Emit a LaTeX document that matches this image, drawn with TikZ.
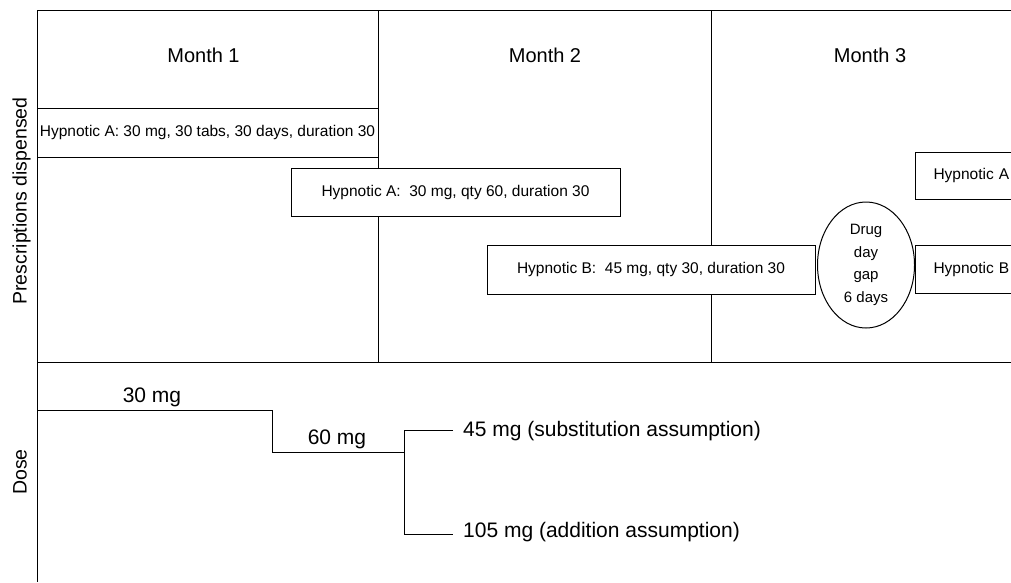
\documentclass[tikz,border=0pt]{standalone}
\usepackage{fontspec}
\setmainfont{Liberation Sans}
\usetikzlibrary{shapes.geometric}
\begin{document}
\begin{tikzpicture}[x=1pt,y=-1pt,
  rule/.style={line width=1pt},
  rxbox/.style={draw, fill=white, line width=1pt, inner sep=0pt,
    font=\fontsize{15.5}{18}\selectfont},
  openbox/.style={rxbox, anchor=west, inner xsep=18pt, text width=84pt, align=left},
  bigtext/.style={font=\fontsize{20}{24}\selectfont, inner sep=0pt},
  dosetext/.style={font=\fontsize{21}{25}\selectfont, inner sep=0pt},
  gapoval/.style={draw, fill=white, line width=1pt, ellipse, inner sep=0pt,
    align=center, font=\fontsize{15}{22.5}\selectfont}]
\clip (0,0) rectangle (1011,582);
\fill[white] (0,0) rectangle (1011,582);

% frame and month columns
\coordinate (tl) at (37,10);
\coordinate (tr) at (1011,10);
\coordinate (bl) at (37,582);
\coordinate (ml) at (37,362);
\coordinate (mr) at (1011,362);
\coordinate (c1t) at (378,10);
\coordinate (c1b) at (378,362);
\coordinate (c2t) at (711,10);
\coordinate (c2b) at (711,362);
\draw[rule] (tr) -- (tl) -- (bl);
\draw[rule] (ml) -- (mr);
\draw[rule] (c1t) -- (c1b);
\draw[rule] (c2t) -- (c2b);

% axis labels
\node[font=\fontsize{19.5}{23}\selectfont, inner sep=0pt, rotate=90, anchor=base] (lblrx) at (26.5,201) {Prescriptions dispensed};
\node[font=\fontsize{19.5}{23}\selectfont, inner sep=0pt, rotate=90, anchor=base] (lbldose) at (26.5,472) {Dose};

% month headings
\node[bigtext, anchor=base] (m1) at (203.5,62) {Month 1};
\node[bigtext, anchor=base] (m2) at (545,62) {Month 2};
\node[bigtext, anchor=base] (m3) at (870,62) {Month 3};

% prescriptions
\node[rxbox, minimum width=341pt, minimum height=49pt] (rx1) at (207.5,132.5)
  {Hypnotic A: 30 mg, 30 tabs, 30 days, duration 30};
\node[rxbox, minimum width=329pt, minimum height=48pt] (rx2) at (455.5,192)
  {Hypnotic A:\ \ 30 mg, qty 60, duration 30};
\node[rxbox, minimum width=328pt, minimum height=49pt] (rx3) at (651,269.5)
  {Hypnotic B:\ \ 45 mg, qty 30, duration 30};
\node[gapoval, minimum width=97pt, minimum height=126pt] (gap) at (866,265)
  {Drug\\day\\gap\\6 days};
\node[openbox, minimum height=47pt] (rx4) at (915,175.5) {Hypnotic A};
\node[openbox, minimum height=48pt] (rx5) at (915,269) {Hypnotic B};

% dose steps
\coordinate (d0) at (37,410);
\coordinate (d1) at (272,410);
\coordinate (d2) at (272,452);
\coordinate (d3) at (404,452);
\coordinate (bt) at (404,430);
\coordinate (bb) at (404,534);
\coordinate (et) at (453,430);
\coordinate (eb) at (453,534);
\draw[rule] (d0) -- (d1) -- (d2) -- (d3);
\draw[rule] (et) -- (bt) -- (bb) -- (eb);

\node[dosetext, anchor=base] (dose30) at (152,402) {30 mg};
\node[dosetext, anchor=base] (dose60) at (337,444) {60 mg};
\node[dosetext, anchor=base west] (dose45) at (463,436) {45 mg (substitution assumption)};
\node[dosetext, anchor=base west] (dose105) at (463,537) {105 mg (addition assumption)};
\end{tikzpicture}
\end{document}
